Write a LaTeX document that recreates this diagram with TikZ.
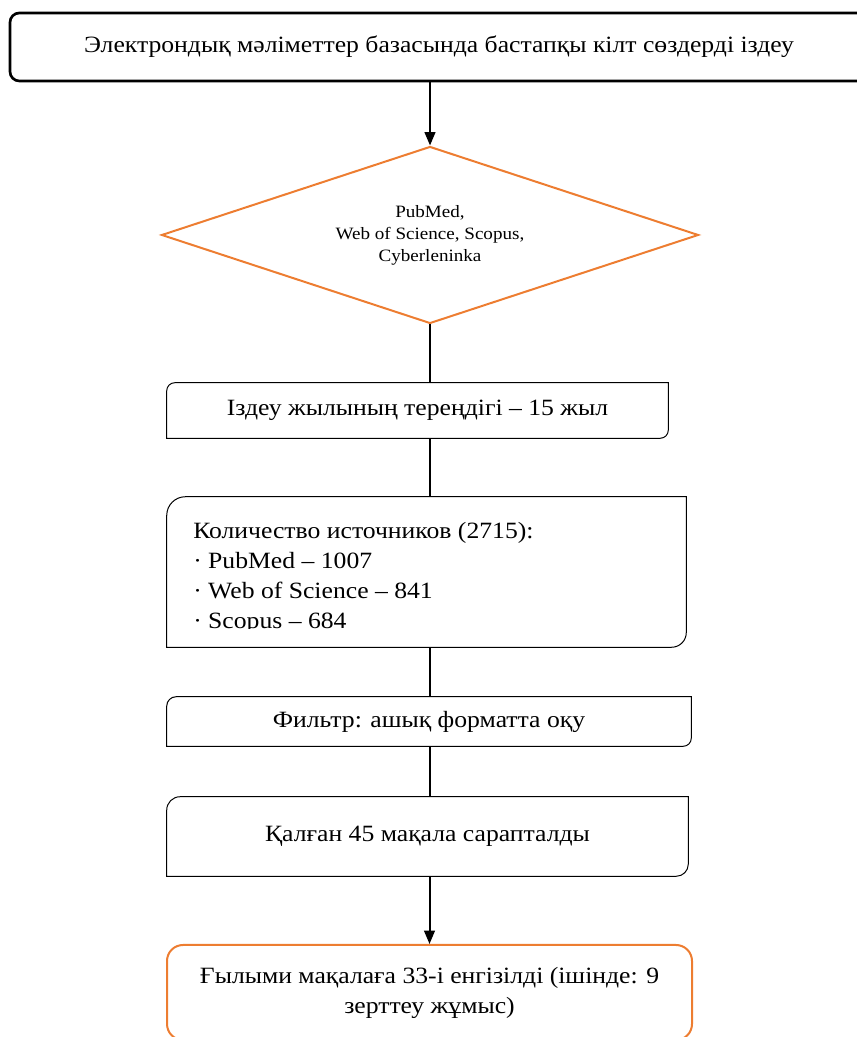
\documentclass[tikz,border=0pt]{standalone}
\usepackage{fontspec}
\setmainfont{Liberation Serif}[FakeStretch=1.1]
\usetikzlibrary{shapes.geometric,arrows.meta,calc}
\definecolor{orng}{RGB}{237,125,49}
\newcommand\tlbrbox[3]{%
  \draw[thinbox] (#1.south west) -- ([yshift=-#2]#1.north west)
    arc[start angle=180,end angle=90,radius=#2] -- (#1.north east)
    -- ([yshift=#3]#1.south east)
    arc[start angle=0,end angle=-90,radius=#3] -- cycle;}
\begin{document}
\begin{tikzpicture}[x=0.75pt,y=0.75pt,
  txt/.style={font=\fontsize{17.5}{22.5}\selectfont, inner sep=0pt},
  boxnode/.style={txt, draw=none, rectangle, align=center},
  thinbox/.style={draw=black, line width=0.75pt},
  conn/.style={draw=black, line width=1.5pt},
  arrowconn/.style={conn, -{Triangle[length=10pt,width=8pt]}}]
\useasboundingbox (0,0) rectangle (856,1037);

\node[txt, draw=black, line width=2pt, rounded corners=7pt,
      minimum width=643.5pt, minimum height=51pt] (top) at (439,990)
  {Электрондық мәліметтер базасында бастапқы кілт сөздерді іздеу};

\node[diamond, draw=orng, line width=1.5pt, inner sep=0pt, aspect=3,
      minimum width=402.75pt, minimum height=132.75pt,
      font=\fontsize{13}{16.5}\selectfont, align=center] (dia) at (430,802)
  {PubMed,\\Web of Science, Scopus,\\Cyberleninka};

\node[boxnode, minimum width=375.75pt, minimum height=41.25pt] (b2) at (417.5,626.5)
  {Іздеу жылының тереңдігі – 15 жыл};
\tlbrbox{b2}{6pt}{6pt}

\node[boxnode, minimum width=389.25pt, minimum height=112.5pt] (b3) at (426.5,465) {};
\tlbrbox{b3}{14pt}{11pt}
\begin{scope}
  \clip (b3.north west) rectangle (b3.east |- 0,408);
  \node[txt, align=left, anchor=north west] (b3t) at (193,515)
    {Количество источников (2715):\\
     · PubMed – 1007\\
     · Web of Science – 841\\
     · Scopus – 684};
\end{scope}

\node[boxnode, minimum width=393pt, minimum height=36.75pt] (b4) at (429,315.5)
  {Фильтр: ашық форматта оқу};
\tlbrbox{b4}{7pt}{6pt}

\node[boxnode, minimum width=390.75pt, minimum height=59.25pt] (b5) at (427.5,200.5)
  {Қалған 45 мақала сарапталды};
\tlbrbox{b5}{10pt}{9pt}

\node[boxnode, draw=orng, line width=1.5pt, rounded corners=12pt,
      minimum width=393.75pt, minimum height=71.25pt] (b6) at (429.5,44.5)
  {Ғылыми мақалаға 33-і енгізілді (ішінде: 9\\зерттеу жұмыс)};

\draw[arrowconn] (top.south -| dia.north) -- (dia.north);
\draw[conn] (dia.south) -- (dia.south |- b2.north);
\draw[conn] (dia.south |- b2.south) -- (dia.south |- b3.north);
\draw[conn] (dia.south |- b3.south) -- (dia.south |- b4.north);
\draw[conn] (dia.south |- b4.south) -- (dia.south |- b5.north);
\draw[arrowconn] (b6.north |- b5.south) -- (b6.north);
\end{tikzpicture}
\end{document}
